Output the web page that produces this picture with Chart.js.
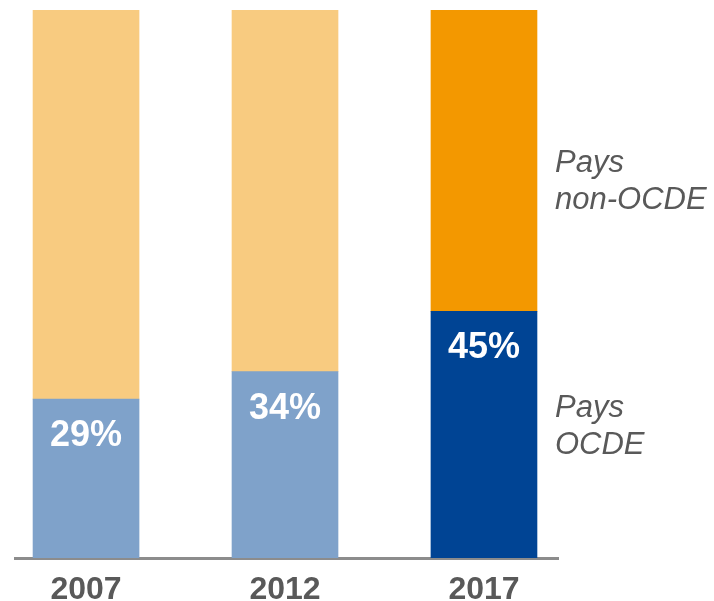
<!DOCTYPE html>
<html>
<head>
<meta charset="utf-8">
<script src="https://cdn.jsdelivr.net/npm/chart.js@4"></script>
<style>
  html, body { margin: 0; padding: 0; background: #fff; }
  #wrap { width: 714px; height: 601px; }
</style>
</head>
<body>
<div id="wrap"><canvas id="myChart"></canvas></div>
<script>
  // Data
  const years = ['2007', '2012', '2017'];
  const ocde = [29, 34, 45];
  const nonOcde = [71, 66, 55];
  const seriesNames = [['Pays', 'OCDE'], ['Pays', 'non-OCDE']];

  const grey = '#595959';
  const font = '"Liberation Sans", Arial, sans-serif';

  // bar labels + series names on the right
  const labelPlugin = {
    id: 'labels',
    afterDatasetsDraw(chart) {
      const ctx = chart.ctx;
      const m0 = chart.getDatasetMeta(0);
      const m1 = chart.getDatasetMeta(1);
      ctx.save();
      ctx.fillStyle = '#fff';
      ctx.font = 'bold 36px ' + font;
      ctx.textAlign = 'center';
      ctx.textBaseline = 'middle';
      m0.data.forEach(function (bar, i) {
        ctx.fillText(ocde[i] + '%', bar.x, bar.y + 37);
      });

      ctx.fillStyle = grey;
      ctx.font = 'italic 31px ' + font;
      ctx.textAlign = 'left';
      ctx.textBaseline = 'middle';
      const last0 = m0.data[m0.data.length - 1];
      const last1 = m1.data[m1.data.length - 1];
      const x = last0.x + last0.width / 2 + 18;
      const mid0 = (last0.y + last0.base) / 2 - 8;
      const mid1 = (last1.y + last1.base) / 2 + 21;
      [[seriesNames[0], mid0], [seriesNames[1], mid1]].forEach(function (s) {
        ctx.fillText(s[0][0], x, s[1] - 18);
        ctx.fillText(s[0][1], x, s[1] + 19);
      });
      ctx.restore();
    }
  };

  const ctx = document.getElementById('myChart');
  new Chart(ctx, {
    type: 'bar',
    data: {
      datasets: [
        {
          label: 'Pays OCDE',
          data: ocde.map((v, i) => ({ x: i, y: v })),
          backgroundColor: ['#7fa2ca', '#7fa2ca', '#004494'],
          barThickness: 106
        },
        {
          label: 'Pays non-OCDE',
          data: nonOcde.map((v, i) => ({ x: i, y: v })),
          backgroundColor: ['#f8cb80', '#f8cb80', '#f39800'],
          barThickness: 106
        }
      ]
    },
    options: {
      responsive: true,
      maintainAspectRatio: false,
      animation: false,
      layout: { padding: { left: 15, right: 156, top: 10, bottom: 0 } },
      plugins: {
        legend: { display: false },
        tooltip: { enabled: false }
      },
      scales: {
        x: {
          type: 'linear',
          stacked: true,
          offset: false,
          min: -0.357,
          max: 2.372,
          afterBuildTicks: s => { s.ticks = years.map((_, i) => ({ value: i })); },
          afterFit: s => { s.height = 43; },
          grid: { display: false },
          border: { display: true, color: '#8c8c8c', width: 3 },
          ticks: {
            padding: 8,
            color: grey,
            font: { family: font, size: 32, weight: 'bold', lineHeight: 1 },
            callback: v => years[v],
            maxRotation: 0
          }
        },
        y: {
          stacked: true,
          display: false,
          min: 0,
          max: 100
        }
      }
    },
    plugins: [labelPlugin]
  });
</script>
</body>
</html>
